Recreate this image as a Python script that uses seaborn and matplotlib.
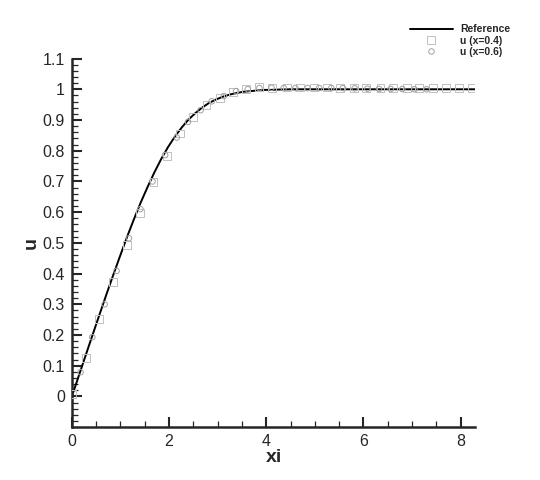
import matplotlib
matplotlib.use("Agg")
import matplotlib.pyplot as plt
from matplotlib.lines import Line2D
from matplotlib.ticker import MultipleLocator, FixedLocator
import seaborn as sns

# Reference curve
ref_xi = [0.0, 0.141, 0.283, 0.424, 0.566, 0.707, 0.849, 0.990, 1.131, 1.273, 1.414,
          1.556, 1.697, 1.839, 1.980, 2.121, 2.263, 2.404, 2.546, 2.687, 2.828, 2.970,
          3.111, 3.253, 3.394, 3.536, 3.677, 3.818, 3.960, 4.101, 4.243, 4.525, 4.950,
          5.657, 6.5, 7.5, 8.3]
ref_u = [0.0, 0.066, 0.133, 0.199, 0.265, 0.330, 0.394, 0.456, 0.517, 0.575, 0.630,
         0.681, 0.729, 0.773, 0.812, 0.846, 0.876, 0.902, 0.923, 0.941, 0.956, 0.967,
         0.976, 0.983, 0.988, 0.992, 0.994, 0.996, 0.998, 0.998, 0.999, 1.0, 1.0,
         1.0, 1.0, 1.0, 1.0]

# u (x=0.4) squares
sq_xi = [0.0, 0.29, 0.56, 0.85, 1.13, 1.41, 1.68, 1.95, 2.23, 2.49, 2.77, 3.05, 3.32,
         3.59, 3.86, 4.12, 4.42, 4.70, 4.98, 5.25, 5.51, 5.80, 6.06, 6.35, 6.61, 6.89,
         7.15, 7.44, 7.70, 7.97, 8.23]
sq_u = [0.007, 0.126, 0.252, 0.372, 0.493, 0.598, 0.699, 0.782, 0.856, 0.910, 0.948,
        0.973, 0.991, 1.002, 1.007, 1.005, 1.006, 1.006, 1.006, 1.006, 1.005, 1.005,
        1.005, 1.004, 1.004, 1.004, 1.003, 1.003, 1.003, 1.003, 1.003]

# u (x=0.6) circles
ci_xi = [0.18, 0.42, 0.675, 0.92, 1.175, 1.41, 1.66, 1.92, 2.16, 2.39, 2.65, 2.88,
         3.13, 3.38, 3.62, 3.86, 4.11, 4.36, 4.60, 4.85, 5.09, 5.34, 5.58, 5.82, 6.08,
         6.32, 6.56, 6.80, 7.05, 7.30]
ci_u = [0.079, 0.193, 0.300, 0.409, 0.515, 0.610, 0.700, 0.786, 0.843, 0.894, 0.932,
        0.961, 0.978, 0.994, 1.000, 1.004, 1.005, 1.004, 1.004, 1.004, 1.004, 1.004,
        1.004, 1.003, 1.002, 1.001, 1.001, 1.001, 1.000, 1.000]

y_ticks = [0.0, 0.1, 0.2, 0.3, 0.4, 0.5, 0.6, 0.7, 0.8, 0.9, 1.0, 1.1]
y_labels = ["0", "0.1", "0.2", "0.3", "0.4", "0.5", "0.6", "0.7", "0.8", "0.9", "1", "1.1"]
x_ticks = [0, 2, 4, 6, 8]
x_labels = ["0", "2", "4", "6", "8"]

sns.set_style("ticks")
plt.rcParams["font.family"] = ["Liberation Sans", "DejaVu Sans"]

fig = plt.figure(figsize=(5.4, 4.8), dpi=100)
ax = fig.add_axes([0.133, 0.110, 0.747, 0.768])

sns.lineplot(x=ref_xi, y=ref_u, ax=ax, color="black", linewidth=1.4, sort=False)
sns.scatterplot(x=sq_xi, y=sq_u, ax=ax, marker="s", s=32, facecolor="none",
                edgecolor="#c0c0c0", linewidth=0.7, zorder=3)
sns.scatterplot(x=ci_xi, y=ci_u, ax=ax, marker="o", s=16, facecolor="none",
                edgecolor="#a0a0a0", linewidth=0.7, zorder=3)

ax.set_xlim(0, 8.3)
ax.set_ylim(-0.1, 1.1)
ax.xaxis.set_major_locator(FixedLocator(x_ticks))
ax.set_xticklabels(x_labels)
ax.xaxis.set_minor_locator(MultipleLocator(0.5))
ax.yaxis.set_major_locator(FixedLocator(y_ticks))
ax.set_yticklabels(y_labels)
ax.yaxis.set_minor_locator(MultipleLocator(0.02))

ax.tick_params(which="major", direction="in", length=7, width=1.5, labelsize=11.5, pad=5)
ax.tick_params(which="minor", direction="in", length=4, width=0.9)
for s in ["top", "right"]:
    ax.spines[s].set_visible(False)
for s in ["left", "bottom"]:
    ax.spines[s].set_linewidth(1.8)

ax.set_xlabel("xi", fontsize=14, fontweight="bold", labelpad=0)
ax.set_ylabel("u", fontsize=14, fontweight="bold", labelpad=2)

handles = [
    Line2D([], [], color="black", linewidth=1.4),
    Line2D([], [], marker="s", linestyle="none", markersize=6, markerfacecolor="none",
           markeredgecolor="#c0c0c0", markeredgewidth=0.7),
    Line2D([], [], marker="o", linestyle="none", markersize=4, markerfacecolor="none",
           markeredgecolor="#a0a0a0", markeredgewidth=0.7),
]
labels = ["Reference", "u (x=0.4)", "u (x=0.6)"]
leg = fig.legend(handles, labels, loc="upper left", bbox_to_anchor=(0.742, 0.969),
                 frameon=False, handlelength=4.1, handletextpad=0.7, labelspacing=0.12,
                 prop={"weight": "bold", "size": 7.5})

fig.savefig("out.png", dpi=100)
